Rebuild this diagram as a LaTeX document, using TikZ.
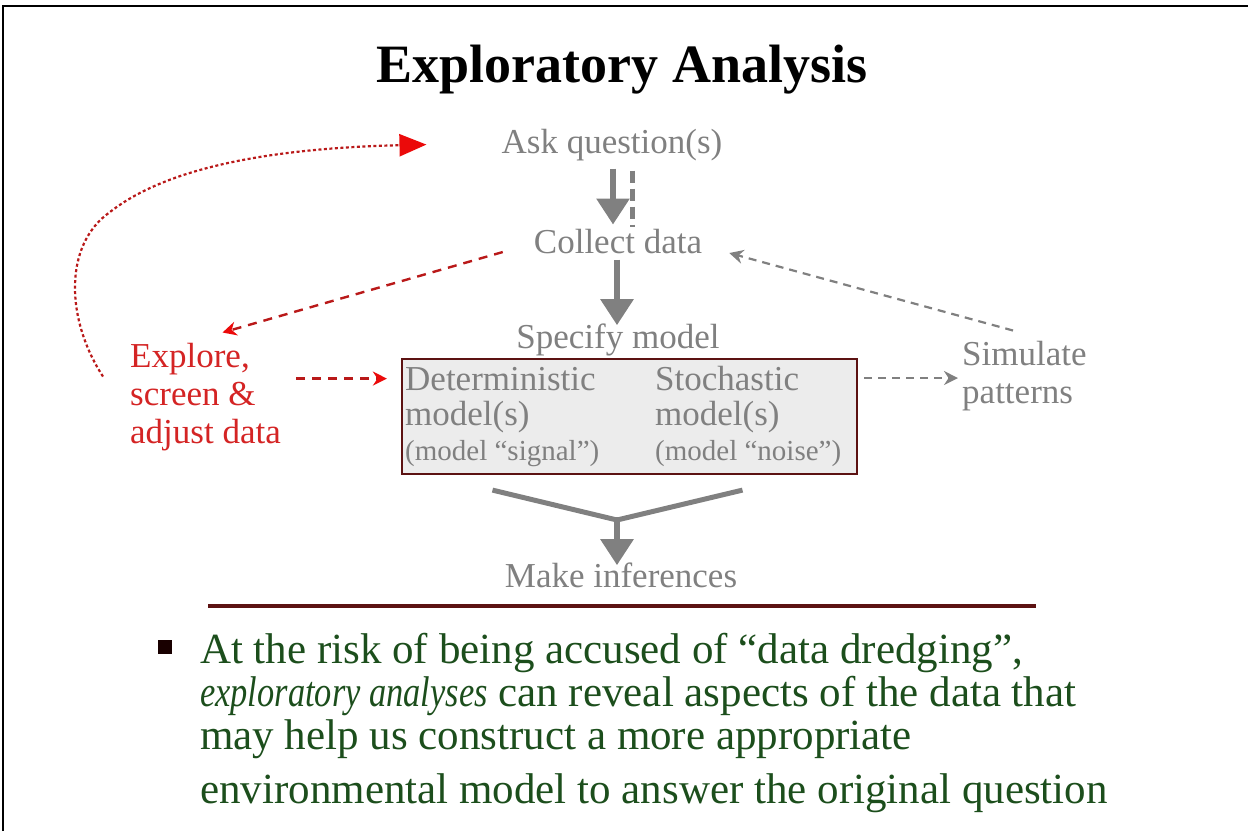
\documentclass[tikz,border=0pt]{standalone}
\usepackage{fontspec}
\usepackage{graphicx}
\setmainfont{Liberation Serif}
\usetikzlibrary{arrows.meta}
\definecolor{gtxt}{RGB}{128,128,128}
\definecolor{rtxt}{RGB}{212,36,36}
\definecolor{rline}{RGB}{185,25,25}
\definecolor{rhead}{RGB}{235,10,10}
\definecolor{maroon}{RGB}{92,18,18}
\definecolor{gtext}{RGB}{28,78,28}
\definecolor{boxfill}{RGB}{236,236,236}
\begin{document}
\begin{tikzpicture}[x=1pt,y=-1pt,
  lbl/.style={font=\fontsize{35}{38}\selectfont, text=gtxt, inner sep=0pt, anchor=base},
  lblw/.style={lbl, anchor=base west},
  small/.style={lblw, font=\fontsize{29}{32}\selectfont},
  redlbl/.style={font=\fontsize{35}{38}\selectfont, text=rtxt, inner sep=0pt, anchor=base west, align=left},
  bul/.style={font=\fontsize{43}{46}\selectfont, text=gtext, inner sep=0pt, anchor=base west},
  bigarrow/.style={draw=gtxt, line width=6pt, -{Triangle[length=26pt,width=32pt]}},
  thickgray/.style={draw=gtxt, line width=5pt},
  graydash/.style={draw=gtxt, line width=2.2pt, dash pattern=on 8pt off 6pt, -{Stealth[length=14pt,width=14pt]}},
  reddash/.style={draw=rline, line width=2.4pt, dash pattern=on 9pt off 7pt, -{Stealth[length=14pt,width=14pt,color=rhead]}},
  reddot/.style={draw=rline, line width=2.2pt, dash pattern=on 3pt off 2.5pt, -{Triangle[length=27pt,width=22pt,color=rhead]}},
  modelbox/.style={draw=maroon, line width=2.2pt, fill=boxfill, minimum width=455pt, minimum height=115pt, inner sep=0pt}
]
\useasboundingbox (0,0) rectangle (1248,831);
\draw[line width=2.5pt] (3,831) -- (3,6) -- (1248,6);

\node[font=\fontsize{54}{60}\selectfont\bfseries, inner sep=0pt, anchor=base] (title) at (622,82) {Exploratory Analysis};

% flow nodes
\node[lbl] (ask) at (612,153) {Ask question(s)};
\node[lbl] (collect) at (618,253) {Collect data};
\node[lbl] (specify) at (618,348) {Specify model};
\node[modelbox] (box) at (629.5,416.5) {};
\node[lblw] (det) at (405,390) {Deterministic};
\node[lblw] (detm) at (405,425) {model(s)};
\node[small] (dets) at (405,460) {(model “signal”)};
\node[lblw] (sto) at (655,390) {Stochastic};
\node[lblw] (stom) at (655,425) {model(s)};
\node[small] (stos) at (655,460) {(model “noise”)};
\node[lblw, align=left] (sim) at (962,403) {Simulate\\patterns};
\node[redlbl] (explore) at (130,443) {Explore,\\screen \&\\adjust data};
\node[lbl] (infer) at (621,587) {Make inferences};

% main arrows
\draw[bigarrow] ([xshift=1pt,yshift=-8pt]ask.south) -- ([xshift=-5pt,yshift=4pt]collect.north);
\draw[thickgray, dash pattern=on 12pt off 6pt] ([xshift=20pt,yshift=-10pt]ask.south) -- ([xshift=14pt,yshift=2pt]collect.north);
\draw[bigarrow] ([xshift=-1pt,yshift=-6pt]collect.south) -- ([xshift=-1pt,yshift=-2pt]specify.north);
\coordinate (meet) at (617,520);
\draw[thickgray, line join=round] ([xshift=-137pt,yshift=-15pt]box.south) -- (meet) -- ([xshift=113pt,yshift=-15pt]box.south);
\draw[bigarrow] ([yshift=3pt]meet) -- ([xshift=-4pt,yshift=-3pt]infer.north);

% red connectors
\draw[reddash] ([xshift=-31pt,yshift=-11pt]collect.west) -- ([xshift=17pt,yshift=10pt]explore.north);
\draw[reddash] ([xshift=15pt]explore.east |- det.west) -- ([xshift=-14pt]box.west |- det.west);
\draw[reddot] ([xshift=-27pt,yshift=-34pt]explore.north west) .. controls (66,320) and (63,245) .. (110,212)
   .. controls (170,165) and (280,148) .. ([xshift=-75pt,yshift=0pt]ask.west);

% gray dashed connectors
\draw[graydash] ([xshift=51pt,yshift=10pt]sim.north west) -- ([xshift=27pt,yshift=-12pt]collect.east);
\draw[graydash] ([xshift=6pt]box.east |- sto.west) -- ([xshift=-4pt]sim.west |- sto.west);

% rule and bullet text
\draw[maroon, line width=4pt] (208,606) -- (1036,606);
\fill[black!90!red] (158,640) rectangle (172,654);
\node[bul] (b1) at (200,663) {At the risk of being accused of “data dredging”,};
\node[bul] (b2) at (200,706) {\scalebox{0.8}[1]{\emph{exploratory analyses}} can reveal aspects of the data that};
\node[bul] (b3) at (200,749) {may help us construct a more appropriate};
\node[bul] (b4) at (200,803) {environmental model to answer the original question};
\end{tikzpicture}
\end{document}
